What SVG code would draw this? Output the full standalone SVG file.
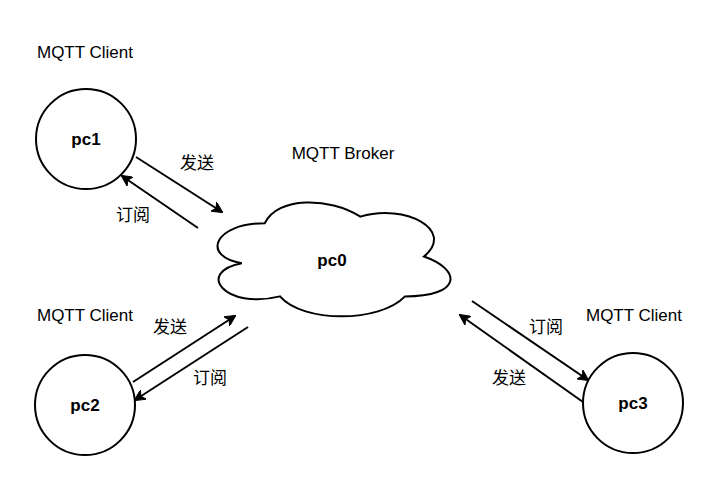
<svg xmlns="http://www.w3.org/2000/svg" width="720" height="477" viewBox="0 0 720 477">
<style>
text{font-family:"Liberation Sans","Noto Sans CJK SC",sans-serif;font-size:17px;fill:#000}
.b{font-weight:bold}
.node{fill:#fff;stroke:#000;stroke-width:2}
.edge{stroke:#000;stroke-width:2;fill:none;marker-end:url(#ah)}
</style>
<defs>
<marker id="ah" markerWidth="11" markerHeight="11" refX="10" refY="5.5" orient="auto" markerUnits="userSpaceOnUse" viewBox="0 0 11 11">
<path d="M0,0 L11,5.5 L0,11 L3,5.5 Z" fill="#000" stroke="#000" stroke-width="1"/>
</marker>
</defs>
<rect width="720" height="477" fill="#fff"/>
<g id="pc1">
<circle class="node" cx="86" cy="139" r="50"/>
<text class="b" x="86" y="145" text-anchor="middle">pc1</text>
<text x="85" y="58" text-anchor="middle">MQTT Client</text>
</g>
<g id="pc2">
<circle class="node" cx="85" cy="405" r="50"/>
<text class="b" x="85" y="411" text-anchor="middle">pc2</text>
<text x="85" y="321" text-anchor="middle">MQTT Client</text>
</g>
<g id="pc3">
<circle class="node" cx="633" cy="403" r="50"/>
<text class="b" x="633" y="409" text-anchor="middle">pc3</text>
<text x="634" y="321" text-anchor="middle">MQTT Client</text>
</g>
<g id="pc0">
<path class="node" d="M264.75,223.25 C213.75,223.25 201,256.5 241.8,263.15 C195,272 225,310 280,296.4 C303,323 379.5,323 405,296.4 C462,296.4 462,269.8 424,256.5 C456,229.9 405,203.3 360.4,216.6 C328.5,196.65 277.5,196.65 264.75,223.25 Z"/>
<text class="b" x="332" y="266" text-anchor="middle">pc0</text>
<text x="343" y="159" text-anchor="middle">MQTT Broker</text>
</g>
<g id="edges">
<line class="edge" x1="136" y1="157" x2="222" y2="212"/>
<line class="edge" x1="198" y1="228" x2="122" y2="176"/>
<line class="edge" x1="133" y1="382" x2="235" y2="316"/>
<line class="edge" x1="248" y1="327" x2="135" y2="400"/>
<line class="edge" x1="472" y1="301" x2="588" y2="380"/>
<line class="edge" x1="583" y1="402" x2="460" y2="315"/>
<text x="197" y="169" text-anchor="middle">发送</text>
<text x="133" y="221" text-anchor="middle">订阅</text>
<text x="170" y="333" text-anchor="middle">发送</text>
<text x="210" y="384" text-anchor="middle">订阅</text>
<text x="546" y="333" text-anchor="middle">订阅</text>
<text x="509" y="384" text-anchor="middle">发送</text>
</g>
</svg>
